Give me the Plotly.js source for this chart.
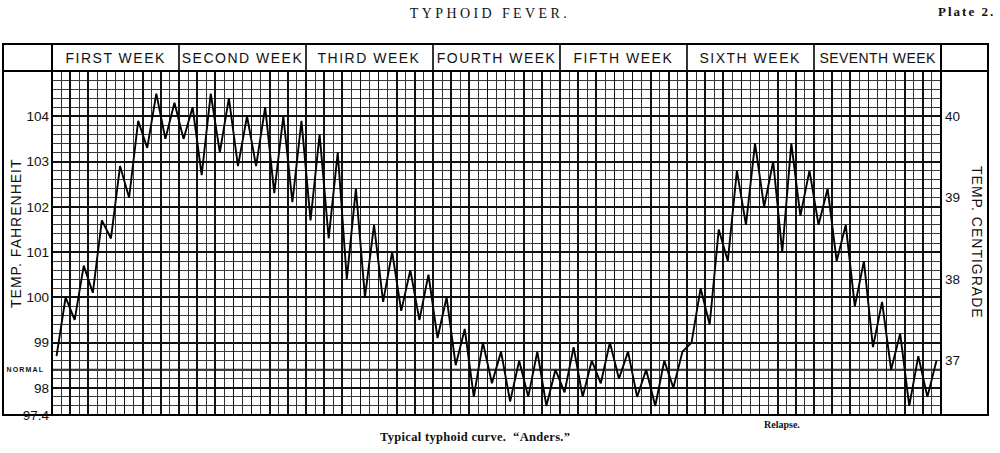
<!DOCTYPE html>
<html>
<head>
<meta charset="utf-8">
<script src="https://cdn.plot.ly/plotly-3.0.1.min.js"></script>
<style>
  html, body { margin: 0; padding: 0; background: #fff; }
  #chart { width: 1000px; height: 453px; }
  .gtitle { letter-spacing: 3.4px; }
</style>
</head>
<body>
<div id="chart"></div>
<script>
// ---------- DATA ----------
const weekLabels = ['FIRST WEEK', 'SECOND WEEK', 'THIRD WEEK', 'FOURTH WEEK', 'FIFTH WEEK', 'SIXTH WEEK', 'SEVENTH WEEK'];
// morning / evening readings (°F), 14 per week
const week1 = [98.7, 100.0, 99.5, 100.7, 100.1, 101.7, 101.3, 102.9, 102.2, 103.9, 103.3, 104.5, 103.5, 104.3];
const week2 = [103.5, 104.2, 102.7, 104.5, 103.2, 104.4, 102.9, 104.0, 102.9, 104.2, 102.3, 104.0, 102.1, 103.9];
const week3 = [101.7, 103.6, 101.3, 103.2, 100.4, 102.4, 100.0, 101.6, 99.9, 101.0, 99.7, 100.6, 99.5, 100.5];
const week4 = [99.1, 100.0, 98.5, 99.3, 97.8, 99.0, 98.1, 98.8, 97.7, 98.6, 97.8, 98.8, 97.6, 98.4];
const week5 = [97.9, 98.9, 97.8, 98.6, 98.1, 99.0, 98.2, 98.8, 97.8, 98.4, 97.6, 98.6, 98.0, 98.8];
const week6 = [99.0, 100.2, 99.4, 101.5, 100.8, 102.8, 101.6, 103.4, 102.0, 103.0, 101.0, 103.4, 101.8, 102.8];
const week7 = [101.6, 102.4, 100.8, 101.6, 99.8, 100.8, 98.9, 99.9, 98.4, 99.2, 97.6, 98.7, 97.8, 98.6];
const fahrenheitTicks = [97.4, 98, 99, 100, 101, 102, 103, 104];
const centigradeTicks = [37, 38, 39, 40];
const normalTemp = 98.4;

const temps = [].concat(week1, week2, week3, week4, week5, week6, week7);
const halfDay = temps.map((_, i) => i);
const nPts = temps.length;
const perWeek = week1.length;

// ---------- GEOMETRY HELPERS (pixel -> paper) ----------
const PL = 52, PR = 941, PT = 71, PB = 415;
const px = p => (p - PL) / (PR - PL);
const py = p => (PB - p) / (PB - PT);

const yRange = [97.4, 105.0];
const sans = 'Liberation Sans, Arial, sans-serif';
const serif = 'Liberation Serif, Times New Roman, serif';

// ---------- SHAPES ----------
const shapes = [];
const frameLine = {color: '#000', width: 2};
shapes.push({type: 'rect', xref: 'paper', yref: 'paper', x0: px(3), x1: px(988), y0: py(415), y1: py(44), line: frameLine, layer: 'above'});
shapes.push({type: 'line', xref: 'paper', yref: 'paper', x0: px(3), x1: px(988), y0: 1, y1: 1, line: frameLine, layer: 'above'});
shapes.push({type: 'line', xref: 'paper', yref: 'paper', x0: 0, x1: 0, y0: 0, y1: py(44), line: frameLine, layer: 'above'});
shapes.push({type: 'line', xref: 'paper', yref: 'paper', x0: 1, x1: 1, y0: 0, y1: py(44), line: frameLine, layer: 'above'});
for (let k = 1; k < weekLabels.length; k++) {
  const xv = k * perWeek - 0.5;
  shapes.push({type: 'line', xref: 'x', yref: 'paper', x0: xv, x1: xv, y0: 1, y1: py(44), line: {color: '#000', width: 1.6}, layer: 'above'});
}
shapes.push({type: 'line', xref: 'paper', yref: 'y', x0: 0, x1: 1, y0: normalTemp, y1: normalTemp, line: {color: '#000', width: 2.2}, layer: 'below'});

// ---------- ANNOTATIONS ----------
const annos = [];
const spacing = [];
weekLabels.forEach((w, k) => {
  annos.push({xref: 'x', yref: 'paper', x: k * perWeek + (perWeek - 1) / 2, y: py(58), text: w, showarrow: false,
    xanchor: 'center', yanchor: 'middle', font: {family: sans, size: 14, color: '#111'}});
  spacing.push(k === 6 ? 0.4 : 1.5);
});
annos.push({xref: 'paper', yref: 'paper', x: px(16), y: py(233), text: 'TEMP. FAHRENHEIT', textangle: -90, showarrow: false,
  xanchor: 'center', yanchor: 'middle', font: {family: sans, size: 14, color: '#111'}});
spacing.push(1.0);
annos.push({xref: 'paper', yref: 'paper', x: px(977), y: py(243), text: 'TEMP. CENTIGRADE', textangle: 90, showarrow: false,
  xanchor: 'center', yanchor: 'middle', font: {family: sans, size: 14, color: '#111'}});
spacing.push(1.0);
annos.push({xref: 'paper', yref: 'y', x: px(25), y: normalTemp, text: 'NORMAL', showarrow: false,
  xanchor: 'center', yanchor: 'middle', font: {family: sans, size: 7, color: '#111', weight: 'bold'}});
spacing.push(1.2);
annos.push({xref: 'paper', yref: 'paper', x: px(966), y: py(12), text: 'Plate 2.', showarrow: false,
  xanchor: 'center', yanchor: 'middle', font: {family: serif, size: 13, color: '#111', weight: 'bold'}});
spacing.push(2.0);
annos.push({xref: 'paper', yref: 'paper', x: px(475), y: py(437), text: 'Typical typhoid curve.  \u201CAnders.\u201D', showarrow: false,
  xanchor: 'center', yanchor: 'middle', font: {family: serif, size: 12.5, color: '#111', weight: 'bold'}});
spacing.push(0.3);
annos.push({xref: 'paper', yref: 'paper', x: px(782), y: py(424), text: 'Relapse.', showarrow: false,
  xanchor: 'center', yanchor: 'middle', font: {family: serif, size: 10, color: '#111', weight: 'bold'}});
spacing.push(0);

// letter-spacing per annotation (applied through CSS so that Plotly measures it)
const css = spacing.map((s, i) => s ? `g.annotation[data-index="${i}"] text{letter-spacing:${s}px;}` : '').join('\n');
const st = document.createElement('style');
st.textContent = css;
document.head.appendChild(st);

// ---------- TRACES ----------
const traces = [
  {x: halfDay, y: temps, type: 'scatter', mode: 'lines', line: {color: '#000', width: 1.9}, hoverinfo: 'skip', showlegend: false},
  {x: halfDay, y: temps, type: 'scatter', mode: 'lines', yaxis: 'y2', opacity: 0, line: {color: '#000', width: 1}, hoverinfo: 'skip', showlegend: false}
];

const layout = {
  width: 1000, height: 453,
  margin: {l: PL, r: 1000 - PR, t: PT, b: 453 - PB},
  paper_bgcolor: '#fff', plot_bgcolor: '#fff',
  showlegend: false,
  title: {text: 'TYPHOID FEVER.', x: 0.49, xref: 'container', y: 1 - 13 / 453, yref: 'container', xanchor: 'center', yanchor: 'middle',
    font: {family: serif, size: 14, color: '#111'}},
  xaxis: {
    range: [-0.5, nPts - 0.5], showticklabels: false, ticks: '', zeroline: false, showline: false,
    tickmode: 'linear', tick0: -0.5, dtick: 2, showgrid: true, gridcolor: '#111', gridwidth: 1.8,
    minor: {tickmode: 'linear', tick0: -0.5, dtick: 1, showgrid: true, gridcolor: '#333', gridwidth: 1, ticks: ''}
  },
  yaxis: {
    range: yRange, tickmode: 'array', tickvals: fahrenheitTicks, ticktext: fahrenheitTicks.map(String),
    showgrid: true, gridcolor: '#111', gridwidth: 2, zeroline: false, showline: false, ticks: '',
    ticklabelstandoff: 2,
    tickfont: {family: sans, size: 13.5, color: '#111'},
    minor: {tickmode: 'linear', tick0: 97.4, dtick: 0.2, showgrid: true, gridcolor: '#3a3a3a', gridwidth: 1, ticks: ''}
  },
  yaxis2: {
    range: yRange, overlaying: 'y', side: 'right', anchor: 'x',
    tickmode: 'array', tickvals: centigradeTicks.map(c => c * 9 / 5 + 32), ticktext: centigradeTicks.map(String),
    showgrid: false, zeroline: false, showline: false, ticks: '', ticklabelstandoff: 3,
    tickfont: {family: sans, size: 13.5, color: '#111'}
  },
  shapes: shapes,
  annotations: annos
};

Plotly.newPlot('chart', traces, layout, {displayModeBar: false, staticPlot: true});
</script>
</body>
</html>
